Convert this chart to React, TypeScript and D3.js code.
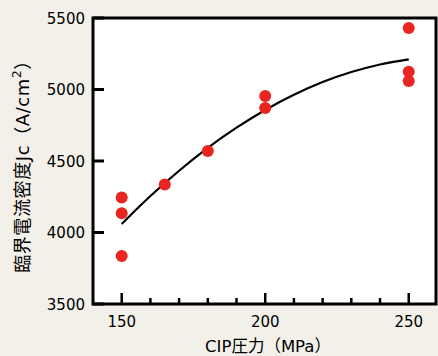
import React, { useEffect, useRef } from "react";
import * as d3 from "d3";

// measured points (CIP pressure MPa, Jc A/cm2)
const pressures = [150, 150, 150, 165, 180, 200, 200, 250, 250, 250];
const jcValues = [4245, 4135, 3835, 4335, 4570, 4955, 4870, 5430, 5125, 5060];

// fitted curve
const fitX = [150, 160, 170, 180, 190, 200, 210, 220, 230, 240, 250];
const fitY = [4060, 4255, 4432, 4592, 4733, 4857, 4963, 5052, 5122, 5175, 5211];

const yTicks = [3500, 4000, 4500, 5000, 5500];
const xMajor = [150, 200, 250];
const xMinor = [160, 170, 180, 190, 210, 220, 230, 240];

const W = 438;
const H = 356;

const App = () => {
  const svgRef = useRef<SVGSVGElement>(null);

  useEffect(() => {
    const margin = { top: 18, right: 2, left: 93, bottom: 52 };
    const svg = d3.select(svgRef.current);
    svg.selectAll("*").remove();

    const x = d3.scaleLinear().domain([140, 259.5]).range([margin.left, W - margin.right]);
    const y = d3.scaleLinear().domain([3500, 5500]).range([H - margin.bottom, margin.top]);
    const font = "'DejaVu Sans', 'Noto Sans CJK JP', sans-serif";

    svg.append("rect").attr("width", W).attr("height", H).attr("fill", "#f3efe9");

    // plot box
    svg
      .append("rect")
      .attr("x", margin.left)
      .attr("y", margin.top)
      .attr("width", W - margin.right - margin.left)
      .attr("height", H - margin.bottom - margin.top)
      .attr("fill", "#fff")
      .attr("stroke", "#000")
      .attr("stroke-width", 3);

    // y ticks (inward)
    const y0 = H - margin.bottom;
    svg
      .append("g")
      .selectAll("line")
      .data(yTicks)
      .enter()
      .append("line")
      .attr("x1", margin.left)
      .attr("x2", margin.left + 11)
      .attr("y1", (d) => y(d))
      .attr("y2", (d) => y(d))
      .attr("stroke", "#000")
      .attr("stroke-width", 3);

    svg
      .append("g")
      .selectAll("text")
      .data(yTicks)
      .enter()
      .append("text")
      .attr("x", margin.left - 8)
      .attr("y", (d) => y(d) + 5.5)
      .attr("text-anchor", "end")
      .style("font-family", font)
      .style("font-size", "15px")
      .text((d) => d);

    // x ticks
    svg
      .append("g")
      .selectAll("line")
      .data(xMajor)
      .enter()
      .append("line")
      .attr("x1", (d) => x(d))
      .attr("x2", (d) => x(d))
      .attr("y1", y0)
      .attr("y2", y0 - 11)
      .attr("stroke", "#000")
      .attr("stroke-width", 2.5);

    svg
      .append("g")
      .selectAll("line")
      .data(xMinor)
      .enter()
      .append("line")
      .attr("x1", (d) => x(d))
      .attr("x2", (d) => x(d))
      .attr("y1", y0)
      .attr("y2", y0 - 6)
      .attr("stroke", "#000")
      .attr("stroke-width", 2.5);

    svg
      .append("g")
      .selectAll("text")
      .data(xMajor)
      .enter()
      .append("text")
      .attr("x", (d) => x(d))
      .attr("y", 327)
      .attr("text-anchor", "middle")
      .style("font-family", font)
      .style("font-size", "15px")
      .text((d) => d);

    // fit curve
    const line = d3
      .line<number>()
      .x((d, i) => x(fitX[i]))
      .y((d) => y(d))
      .curve(d3.curveMonotoneX);

    svg
      .append("path")
      .attr("d", line(fitY))
      .attr("fill", "none")
      .attr("stroke", "#000")
      .attr("stroke-width", 2.2);

    // points
    svg
      .append("g")
      .selectAll("circle")
      .data(jcValues)
      .enter()
      .append("circle")
      .attr("cx", (d, i) => x(pressures[i]))
      .attr("cy", (d) => y(d))
      .attr("r", 6)
      .attr("fill", "#e8261f");

    // axis labels
    svg
      .append("text")
      .attr("x", 268)
      .attr("y", 352)
      .attr("text-anchor", "middle")
      .style("font-family", font)
      .style("font-size", "16.5px")
      .text("CIP圧力（MPa）");

    const yl = svg
      .append("text")
      .attr("transform", `translate(29,${(margin.top + y0) / 2 + 1}) rotate(-90)`)
      .attr("text-anchor", "middle")
      .style("font-family", font)
      .style("font-size", "18px")
      .style("letter-spacing", "0.6px");
    yl.append("tspan").text("臨界電流密度Jc（A/cm");
    yl.append("tspan").attr("dy", -8).style("font-size", "12px").text("2");
    yl.append("tspan").attr("dy", 8).text("）");
  }, []);

  return (
    <div style={{ position: "fixed", left: 0, top: 0 }}>
      <svg ref={svgRef} width={W} height={H} style={{ display: "block" }} />
    </div>
  );
};

export default App;
